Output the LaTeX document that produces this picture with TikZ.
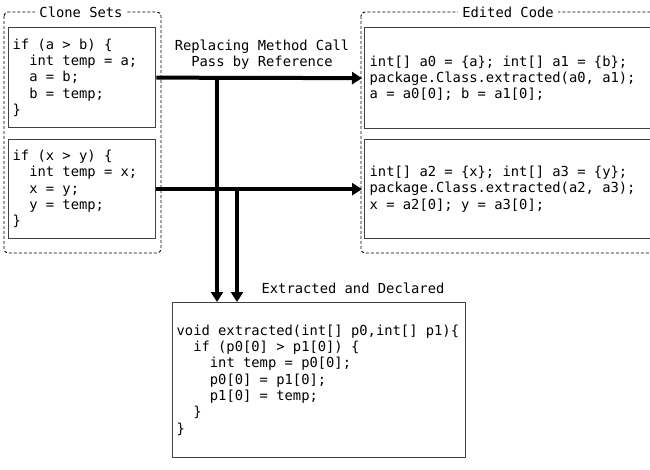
\documentclass[tikz,border=0pt]{standalone}
\usepackage{fontspec}
\setmonofont{DejaVu Sans Mono}
\usetikzlibrary{arrows.meta}
% indentation by a number of character cells of the current mono font
\newcommand\indt[1]{\hspace*{#1\fontcharwd\font`\0}}
% every space exactly one character cell wide
\newcommand\cellspaces{\spaceskip=\fontcharwd\font`\0\relax\xspaceskip=\spaceskip}
\newcommand\codefont{\ttfamily\fontsize{13.8}{16.3}\selectfont\cellspaces}

\begin{document}
\begin{tikzpicture}[x=1pt,y=-1pt,
  every node/.style={font=\codefont},
  codebox/.style={draw=black!75, line width=1.3pt, rectangle, inner ysep=0pt,
    inner xsep=5pt, align=flush left, anchor=north west,
    execute at begin node=\cellspaces},
  group/.style={draw=black, line width=0.9pt, dash pattern=on 3pt off 2pt,
    rounded corners=4pt},
  grouptitle/.style={fill=white, inner xsep=4pt, inner ysep=1pt},
  flow/.style={line width=4pt, -{Triangle[length=10pt,width=12pt]}}]

\useasboundingbox (0,0) rectangle (650,470);

% dashed group frames
\draw[group] (4,12) rectangle (161,253);
\draw[group] (361,12) rectangle (662,253);
\node[grouptitle] (tclone) at (81,12) {Clone Sets};
\node[grouptitle] (tedit) at (508,12) {Edited Code};

% clone fragments
\node[codebox, inner xsep=4pt, text width=139pt, minimum height=100pt] (clone1) at (8,27)
  {if (a > b) \{\\
   \indt{2}int temp = a;\\
   \indt{2}a = b;\\
   \indt{2}b = temp;\\
   \}};
\node[codebox, inner xsep=4pt, text width=139pt, minimum height=99pt] (clone2) at (8,139)
  {if (x > y) \{\\
   \indt{2}int temp = x;\\
   \indt{2}x = y;\\
   \indt{2}y = temp;\\
   \}};

% edited call sites
\node[codebox, text width=300pt, minimum height=101pt] (edit1) at (364,27)
  {int[] a0 = \{a\}; int[] a1 = \{b\};\\
   package.Class.extracted(a0, a1);\\
   a = a0[0]; b = a1[0];};
\node[codebox, text width=300pt, minimum height=99pt] (edit2) at (364,139)
  {int[] a2 = \{x\}; int[] a3 = \{y\};\\
   package.Class.extracted(a2, a3);\\
   x = a2[0]; y = a3[0];};

% extracted method
\node[codebox, inner xsep=4pt, text width=285pt, minimum height=155pt] (method) at (172,302)
  {void extracted(int[] p0,int[] p1)\{\\
   \indt{2}if (p0[0] > p1[0]) \{\\
   \indt{4}int temp = p0[0];\\
   \indt{4}p0[0] = p1[0];\\
   \indt{4}p1[0] = temp;\\
   \indt{2}\}\\
   \}};

% labels
\node[align=center] (lrep) at (262,54.5) {Replacing Method Call\\Pass by Reference};
\node (lext) at (353,288) {Extracted and Declared};

% connectors
\draw[flow, shorten >=2pt] (clone1.east) -- (edit1.west);
\draw[flow, shorten >=2pt] (clone2.east) -- (edit2.west);
\coordinate (j1) at (217,77);
\coordinate (j2) at (237,188.5);
\draw[flow] (j1) -- (j1 |- method.north);
\draw[flow] (j2) -- (j2 |- method.north);
\end{tikzpicture}
\end{document}
